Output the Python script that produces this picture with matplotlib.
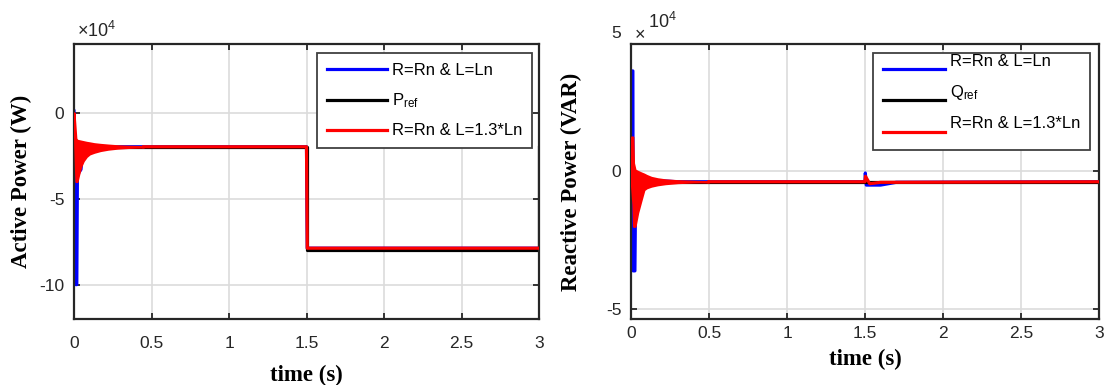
import numpy as np
import matplotlib
matplotlib.use("Agg")
import matplotlib.pyplot as plt
import matplotlib.transforms as mtrans
from matplotlib.ticker import FuncFormatter

plt.rcParams['font.family'] = ['Liberation Sans', 'DejaVu Sans']
plt.rcParams['mathtext.fontset'] = 'custom'
plt.rcParams['mathtext.rm'] = 'Liberation Sans'
plt.rcParams['mathtext.it'] = 'Liberation Sans:italic'
plt.rcParams['mathtext.bf'] = 'Liberation Sans:bold'
plt.rcParams['axes.unicode_minus'] = False

SCALE = 1e4
############################################
### Active power (x1e4 W)
t_p_blue = [0.0, 0.004, 0.012, 0.018, 0.022, 0.03, 0.045, 0.05, 0.08, 0.15, 0.3, 1.5, 1.505, 3.0]
p_blue   = [0.1, -5.0, -10.0, -10.0, -3.6, -3.5, -3.3, -2.8, -2.3, -2.05, -1.98, -1.98, -7.88, -7.88]

t_p_ref  = [0.0, 1.5, 1.5, 3.0, 3.0]
p_ref    = [-2.0, -2.0, -8.0, -8.0, -2.0]

t_p_band = [0.0, 0.005, 0.012, 0.02, 0.03, 0.045, 0.06, 0.08, 0.1, 0.13, 0.17, 0.22, 0.28, 0.35, 0.45]
p_red_hi = [0.0, -0.6, -1.5, -1.6, -1.62, -1.65, -1.68, -1.72, -1.75, -1.8, -1.84, -1.88, -1.92, -1.95, -1.97]
p_red_lo = [0.0, -2.0, -4.0, -4.0, -3.6, -3.1, -2.8, -2.55, -2.4, -2.3, -2.2, -2.12, -2.06, -2.02, -1.99]
t_p_red  = [0.45, 1.5, 1.505, 3.0]
p_red    = [-1.98, -1.98, -7.88, -7.88]

### Reactive power (x1e4 VAR)
t_q_blue = [0.0, 0.002, 0.012, 0.014, 0.025, 0.03, 0.06, 0.3, 1.5, 1.502, 1.508, 1.6, 1.7, 3.0]
q_blue   = [-0.5, 3.65, 3.65, -3.62, -3.62, -0.5, -0.3, -0.38, -0.38, -0.06, -0.5, -0.5, -0.4, -0.38]

t_q_ref  = [0.0, 3.0]
q_ref    = [-0.38, -0.38]

t_q_band = [0.0, 0.003, 0.012, 0.016, 0.026, 0.043, 0.062, 0.083, 0.1, 0.13, 0.17, 0.22, 0.3, 0.4, 0.5]
q_red_hi = [-0.3, 1.25, 1.25, 0.3, 0.05, 0.0, -0.05, -0.1, -0.15, -0.22, -0.27, -0.31, -0.34, -0.36, -0.38]
q_red_lo = [-0.3, -0.5, -1.2, -2.0, -2.0, -1.5, -1.1, -0.67, -0.6, -0.54, -0.49, -0.45, -0.41, -0.39, -0.38]
t_q_red  = [0.5, 1.5, 1.503, 1.53, 1.6, 3.0]
q_red    = [-0.38, -0.38, -0.18, -0.45, -0.4, -0.38]

x_ticks = [0, 0.5, 1, 1.5, 2, 2.5, 3]
x_tick_labels = ['0', '0.5', '1', '1.5', '2', '2.5', '3']
############################################

fig = plt.figure(figsize=(11.05, 3.85), dpi=100)
ax1 = fig.add_axes([74/1105, 1-319/385, 465/1105, 275/385])
ax2 = fig.add_axes([631/1105, 1-319/385, 468/1105, 275/385])
TXT = "#262626"

def sc(v):
    return np.array(v) * SCALE

def style_axes(ax, xpad):
    ax.set_xlim(0, 3)
    ax.set_xticks(x_ticks)
    ax.set_xticklabels(x_tick_labels)
    ax.grid(True, color="#dcdcdc", linewidth=1.2)
    ax.set_axisbelow(True)
    ax.tick_params(direction="in", length=4, width=1.3, top=True, right=True,
                   labelsize=12.5, colors=TXT, labelcolor=TXT)
    ax.tick_params(axis="x", pad=xpad)
    ax.tick_params(axis="y", pad=7)
    for s in ax.spines.values():
        s.set_linewidth(1.6)
        s.set_color(TXT)
    ax.yaxis.set_major_formatter(FuncFormatter(lambda v, p: "%g" % (v / SCALE)))

lw = 2.3

### Active power plot
ax1.plot(t_p_blue, sc(p_blue), color="blue", linewidth=lw, label="R=Rn & L=Ln", zorder=2)
ax1.plot(t_p_ref, sc(p_ref), color="black", linewidth=lw, label=r"P$_{\mathregular{ref}}$", zorder=2.2)
ax1.fill_between(t_p_band, sc(p_red_lo), sc(p_red_hi), color="red", linewidth=1.5,
                 edgecolor="red", zorder=3)
ax1.plot(t_p_red, sc(p_red), color="red", linewidth=lw, label="R=Rn & L=1.3*Ln", zorder=3)
ax1.set_ylim(-12e4, 4e4)
ax1.set_yticks([-10e4, -5e4, 0])
style_axes(ax1, 12)
ax1.text(0.006, 1.012, "×10$^4$", transform=ax1.transAxes, ha="left", va="bottom",
         fontsize=13, color=TXT)
ax1.set_xlabel("time (s)", family="Liberation Serif", weight="bold", fontsize=16.5)
ax1.set_ylabel("Active Power (W)", family="Liberation Serif", weight="bold", fontsize=16.5)
ax1.xaxis.set_label_coords(0.5, -0.165)
ax1.xaxis.label.set_va("top")
ax1.yaxis.set_label_coords(-0.09, 0.5)

leg1 = ax1.legend(loc="upper right", bbox_to_anchor=(0.985, 0.967), borderaxespad=0,
                  fontsize=12, handlelength=3.6, handletextpad=0.3, labelspacing=0.8,
                  borderpad=0.6, fancybox=False, framealpha=1, edgecolor="#404040")
leg1.get_frame().set_linewidth(1.3)
leg1.set_zorder(5)

### Reactive power plot
ax2.plot(t_q_blue, sc(q_blue), color="blue", linewidth=lw, label="R=Rn & L=Ln", zorder=2)
ax2.plot(t_q_ref, sc(q_ref), color="black", linewidth=lw, label=r"Q$_{\mathregular{ref}}$", zorder=2.2)
ax2.fill_between(t_q_band, sc(q_red_lo), sc(q_red_hi), color="red", linewidth=1.5,
                 edgecolor="red", zorder=3)
ax2.plot(t_q_red, sc(q_red), color="red", linewidth=lw, label="R=Rn & L=1.3*Ln", zorder=3)
ax2.set_ylim(-5.37e4, 4.63e4)
ax2.set_yticks([-5e4, 0])
style_axes(ax2, 5)
blend = mtrans.blended_transform_factory(ax2.transAxes, ax2.transData)
ax2.text(-0.0214, 5e4, "5", transform=blend, ha="right", va="center",
         fontsize=12.5, color=TXT, clip_on=False)
ax2.text(0.008, 4.95e4, "×", transform=blend, ha="left", va="center",
         fontsize=13, color=TXT, clip_on=False)
ax2.text(0.036, 1.045, "10$^4$", transform=ax2.transAxes, ha="left", va="bottom",
         fontsize=13, color=TXT)
ax2.set_xlabel("time (s)", family="Liberation Serif", weight="bold", fontsize=16.5)
ax2.set_ylabel("Reactive Power (VAR)", family="Liberation Serif", weight="bold", fontsize=16.5)
ax2.xaxis.set_label_coords(0.5, -0.11)
ax2.xaxis.label.set_va("top")
ax2.yaxis.set_label_coords(-0.105, 0.5)

leg2 = ax2.legend(loc="upper right", bbox_to_anchor=(0.981, 0.967), borderaxespad=0,
                  fontsize=12, handlelength=3.7, handletextpad=0.3, labelspacing=0.85,
                  borderpad=0.6, fancybox=False, framealpha=1, edgecolor="#404040")
leg2.get_frame().set_linewidth(1.3)
leg2.set_zorder(5)
# texts sit above their lines in this legend
for txt in leg2.get_texts():
    txt.set_transform(txt.get_transform() + mtrans.Affine2D().translate(0, 9))

fig.savefig("out.png", dpi=100)
